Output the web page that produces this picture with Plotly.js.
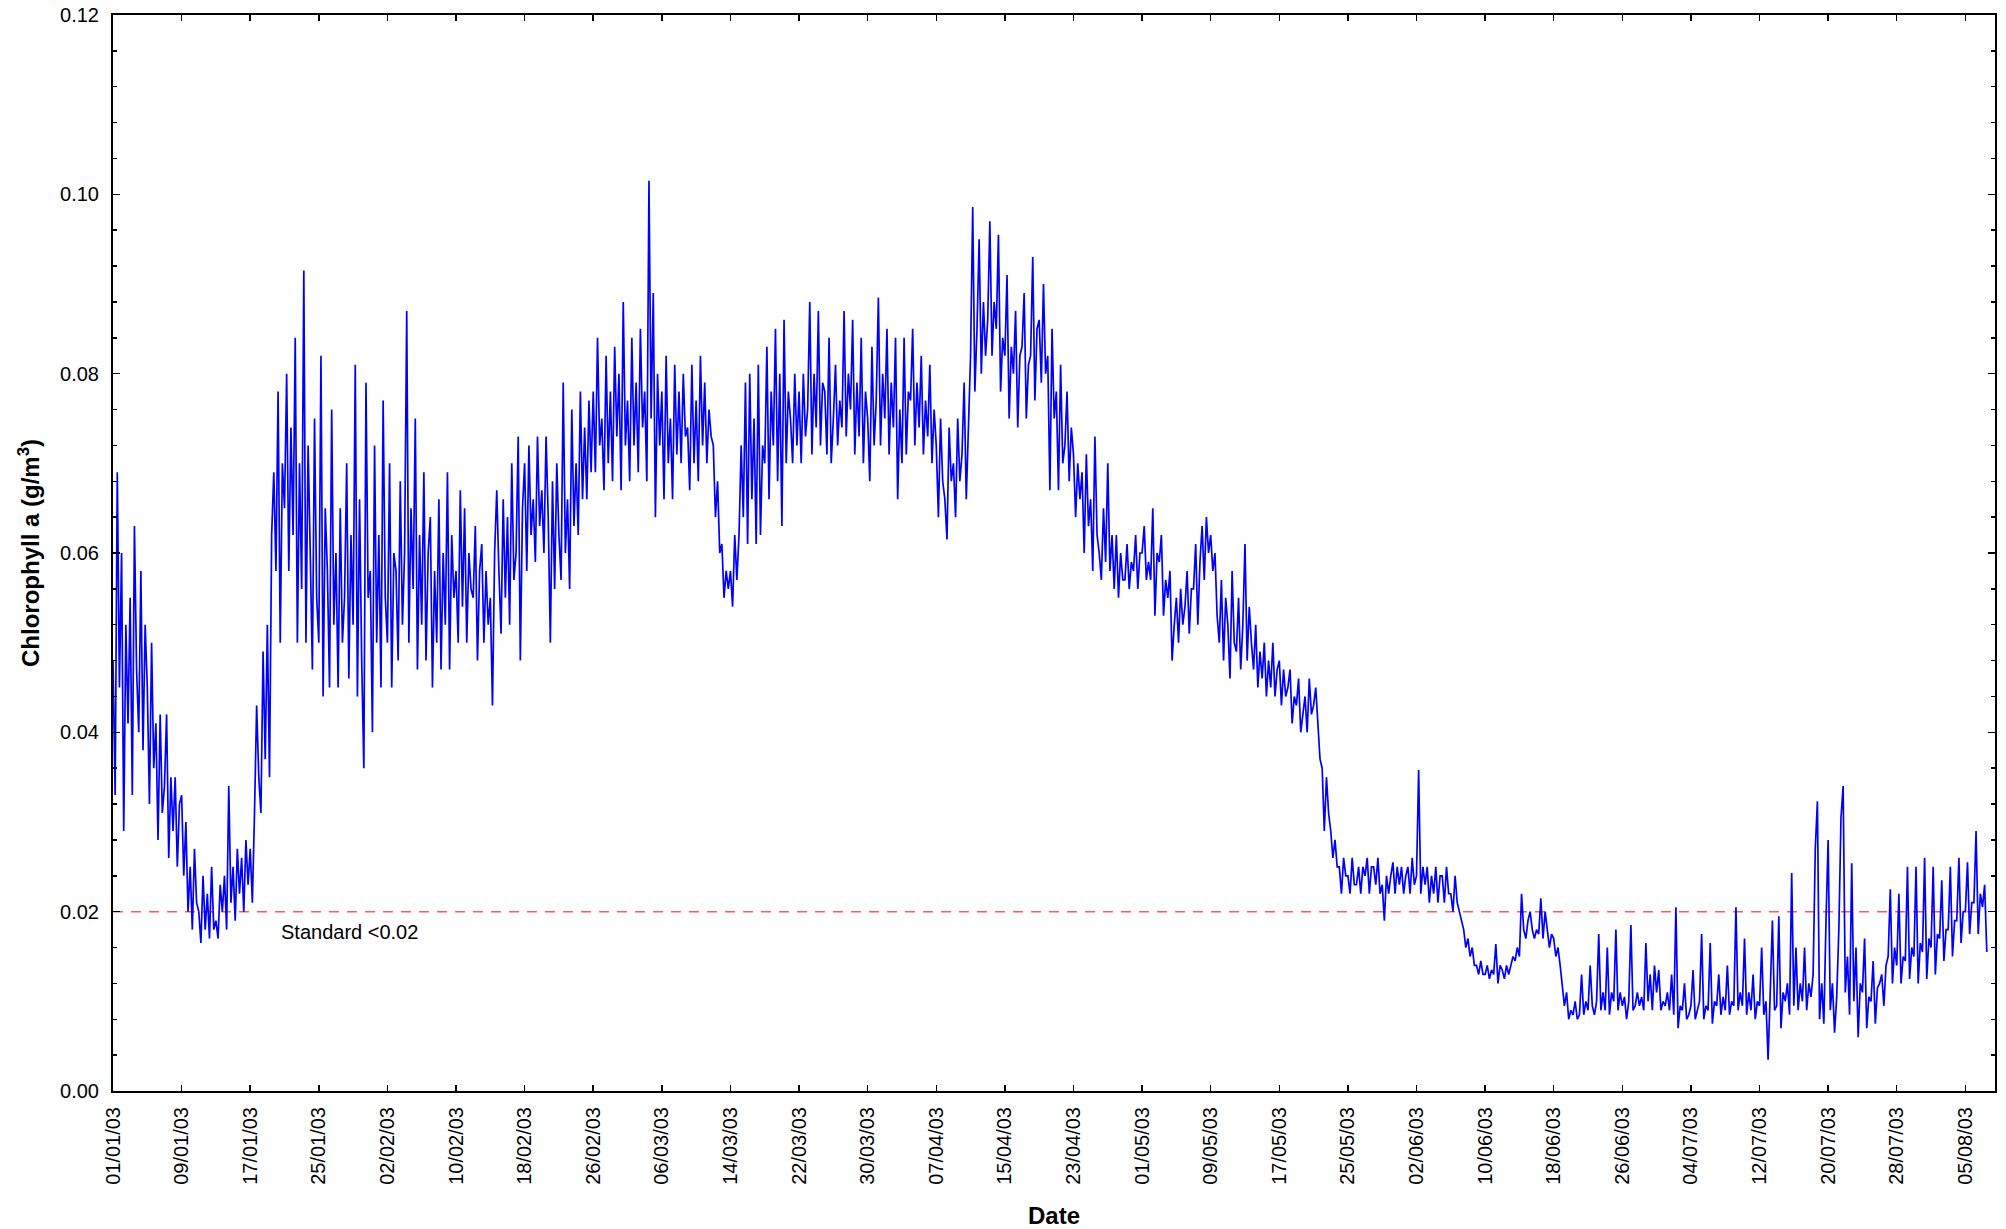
<!DOCTYPE html>
<html>
<head>
<meta charset="utf-8">
<script src="https://cdn.plot.ly/plotly-3.0.1.min.js"></script>
<style>
  html, body { margin: 0; padding: 0; background: #fff; }
  #chart { width: 2006px; height: 1229px; }
</style>
</head>
<body>
<div id="chart"></div>
<script>
// Chlorophyll a (g/m3), 4 readings per day (every 6 h) starting 01/01/03 00:00
const chlJan = [
  0.048,0.033,0.069,0.045, 0.060,0.029,0.052,0.041, 0.055,0.033,0.063,0.047, 0.040,0.058,0.038,0.052,
  0.045,0.032,0.050,0.036, 0.041,0.028,0.042,0.031, 0.034,0.042,0.026,0.035, 0.029,0.035,0.025,0.032,
  0.033,0.024,0.030,0.020, 0.025,0.018,0.027,0.021, 0.020,0.0165,0.024,0.018, 0.022,0.017,0.025,0.018,
  0.019,0.017,0.023,0.020, 0.024,0.018,0.034,0.021, 0.025,0.019,0.027,0.022, 0.026,0.020,0.028,0.023,
  0.027,0.021,0.031,0.043, 0.035,0.031,0.049,0.037, 0.052,0.035,0.062,0.069, 0.058,0.078,0.050,0.070,
  0.065,0.080,0.058,0.074, 0.062,0.084,0.050,0.070, 0.056,0.0915,0.050,0.072, 0.060,0.047,0.075,0.055,
  0.050,0.082,0.044,0.065, 0.058,0.045,0.076,0.052, 0.060,0.045,0.065,0.050, 0.055,0.070,0.046,0.062,
  0.052,0.081,0.044,0.066, 0.048,0.036,0.079,0.055, 0.058,0.040,0.072,0.050
];
const chlFeb = [
  0.062,0.045,0.077,0.055, 0.050,0.070,0.045,0.060, 0.058,0.048,0.068,0.052, 0.060,0.087,0.050,0.065,
  0.056,0.075,0.047,0.062, 0.052,0.069,0.048,0.060, 0.064,0.045,0.058,0.050, 0.066,0.047,0.060,0.052,
  0.069,0.047,0.062,0.055, 0.058,0.050,0.067,0.054, 0.065,0.050,0.060,0.056, 0.055,0.063,0.048,0.058,
  0.061,0.050,0.058,0.052, 0.055,0.043,0.060,0.067, 0.058,0.051,0.066,0.055, 0.064,0.052,0.070,0.057,
  0.060,0.073,0.048,0.065, 0.070,0.058,0.072,0.062, 0.066,0.059,0.073,0.063, 0.067,0.060,0.073,0.064,
  0.050,0.068,0.056,0.070, 0.062,0.057,0.079,0.060, 0.066,0.056,0.076,0.063, 0.070,0.062,0.078,0.066,
  0.074,0.066,0.077,0.069, 0.078,0.069,0.084,0.072, 0.075,0.067,0.082,0.070, 0.078,0.068,0.083,0.073
];
const chlMar = [
  0.080,0.067,0.088,0.072, 0.077,0.068,0.084,0.072, 0.079,0.069,0.085,0.074, 0.078,0.068,0.1015,0.075,
  0.089,0.064,0.080,0.072, 0.078,0.066,0.082,0.070, 0.075,0.066,0.081,0.071, 0.078,0.070,0.080,0.073,
  0.074,0.067,0.081,0.070, 0.077,0.068,0.082,0.072, 0.079,0.070,0.076,0.073, 0.072,0.064,0.068,0.060,
  0.061,0.055,0.058,0.056, 0.058,0.054,0.062,0.057, 0.062,0.072,0.064,0.079, 0.061,0.080,0.066,0.075,
  0.061,0.081,0.062,0.072, 0.070,0.083,0.066,0.078, 0.072,0.085,0.068,0.080, 0.063,0.086,0.070,0.078,
  0.075,0.070,0.080,0.072, 0.078,0.070,0.080,0.073, 0.076,0.088,0.071,0.080, 0.074,0.087,0.072,0.079,
  0.078,0.071,0.084,0.070, 0.075,0.081,0.072,0.077, 0.074,0.087,0.073,0.080, 0.076,0.086,0.071,0.079,
  0.073,0.084,0.070,0.078, 0.075,0.068,0.083,0.072, 0.077,0.0885,0.072,0.080
];
const chlApr = [
  0.075,0.085,0.071,0.079, 0.074,0.084,0.066,0.076, 0.070,0.084,0.071,0.078, 0.077,0.085,0.072,0.079,
  0.074,0.082,0.071,0.077, 0.073,0.081,0.070,0.076, 0.072,0.064,0.075,0.068, 0.066,0.0615,0.074,0.068,
  0.070,0.064,0.075,0.068, 0.071,0.079,0.066,0.075, 0.082,0.0986,0.078,0.085, 0.095,0.080,0.088,0.082,
  0.086,0.097,0.082,0.088, 0.085,0.0955,0.078,0.084, 0.082,0.091,0.075,0.083, 0.080,0.087,0.074,0.082,
  0.083,0.089,0.075,0.081, 0.082,0.093,0.077,0.085, 0.086,0.079,0.090,0.080, 0.082,0.067,0.085,0.075,
  0.078,0.067,0.081,0.070, 0.072,0.078,0.068,0.074, 0.071,0.064,0.070,0.066, 0.069,0.060,0.071,0.063,
  0.066,0.058,0.073,0.062, 0.060,0.057,0.065,0.059, 0.070,0.058,0.062,0.056, 0.062,0.055,0.060,0.057,
  0.057,0.061,0.056,0.059, 0.058,0.062,0.056,0.060
];
const chlMay = [
  0.060,0.063,0.057,0.059, 0.057,0.065,0.053,0.060, 0.059,0.062,0.053,0.057, 0.055,0.058,0.048,0.052,
  0.055,0.050,0.056,0.052, 0.054,0.058,0.051,0.056, 0.056,0.061,0.052,0.059, 0.063,0.057,0.064,0.060,
  0.062,0.058,0.060,0.053, 0.050,0.057,0.048,0.055, 0.052,0.046,0.058,0.050, 0.049,0.055,0.047,0.052,
  0.061,0.048,0.054,0.050, 0.047,0.052,0.045,0.049, 0.046,0.050,0.044,0.048, 0.045,0.050,0.044,0.047,
  0.048,0.043,0.047,0.044, 0.045,0.047,0.041,0.044, 0.043,0.046,0.040,0.042, 0.044,0.040,0.046,0.042,
  0.043,0.045,0.041,0.037, 0.036,0.029,0.035,0.031, 0.029,0.026,0.028,0.025, 0.025,0.022,0.026,0.024,
  0.024,0.022,0.026,0.023, 0.023,0.025,0.022,0.025, 0.024,0.026,0.022,0.025, 0.025,0.023,0.026,0.022,
  0.023,0.019,0.024,0.022, 0.024,0.0255,0.022,0.025, 0.023,0.025,0.022,0.024
];
const chlJun = [
  0.025,0.022,0.026,0.023, 0.024,0.0358,0.022,0.025, 0.023,0.025,0.021,0.024, 0.022,0.025,0.021,0.024,
  0.024,0.021,0.025,0.022, 0.022,0.020,0.024,0.021, 0.020,0.019,0.018,0.016, 0.017,0.015,0.016,0.014,
  0.014,0.013,0.0145,0.013, 0.013,0.014,0.0125,0.0135, 0.013,0.0164,0.012,0.014, 0.0135,0.0125,0.014,0.013,
  0.014,0.015,0.0145,0.016, 0.015,0.022,0.018,0.017, 0.019,0.020,0.018,0.017, 0.018,0.0175,0.0215,0.017,
  0.020,0.018,0.016,0.0175, 0.017,0.015,0.016,0.014, 0.012,0.0095,0.011,0.008, 0.009,0.0085,0.010,0.008,
  0.0085,0.013,0.0085,0.010, 0.009,0.014,0.0095,0.0085, 0.010,0.0175,0.009,0.011, 0.009,0.016,0.0085,0.011,
  0.010,0.018,0.009,0.011, 0.0095,0.0105,0.008,0.010, 0.0185,0.009,0.0095,0.011, 0.0095,0.0105,0.009,0.0165,
  0.010,0.013,0.009,0.014, 0.011,0.0135,0.009,0.010
];
const chlJul = [
  0.0095,0.011,0.009,0.013, 0.0085,0.0205,0.007,0.0095, 0.009,0.012,0.008,0.0085, 0.0095,0.0135,0.008,0.009,
  0.010,0.0175,0.008,0.0095, 0.009,0.0165,0.0075,0.010, 0.0095,0.013,0.0085,0.0105, 0.009,0.014,0.0085,0.010,
  0.0095,0.0205,0.009,0.011, 0.0095,0.017,0.0085,0.011, 0.009,0.013,0.008,0.010, 0.0095,0.016,0.0085,0.010,
  0.0035,0.011,0.019,0.009, 0.0095,0.0195,0.007,0.011, 0.010,0.012,0.0085,0.0243, 0.0095,0.016,0.009,0.012,
  0.010,0.016,0.009,0.012, 0.0105,0.013,0.027,0.0323, 0.008,0.012,0.0075,0.019, 0.028,0.009,0.012,0.0065,
  0.0105,0.018,0.0305,0.034, 0.011,0.015,0.0085,0.0254, 0.010,0.016,0.006,0.012, 0.011,0.017,0.007,0.0105,
  0.010,0.0145,0.0075,0.0115, 0.012,0.013,0.0095,0.014, 0.015,0.0225,0.012,0.016, 0.014,0.022,0.012,0.015,
  0.0145,0.025,0.0125,0.016, 0.015,0.025,0.012,0.0165, 0.0155,0.026,0.0125,0.017
];
const chlAug = [
  0.016,0.025,0.013,0.0175, 0.017,0.0235,0.0145,0.018, 0.018,0.025,0.015,0.019, 0.019,0.026,0.0165,0.020,
  0.020,0.0255,0.0175,0.021, 0.021,0.029,0.0175,0.022, 0.0205,0.023,0.0155
];
const standardLevel = [0.02, 0.02];
const standardLabel = 'Standard <0.02';
const startDate = '2003-01-01';
const endDate = '2003-08-08 11:00';
const readingsPerDay = 4;

const chl = [].concat(chlJan, chlFeb, chlMar, chlApr, chlMay, chlJun, chlJul, chlAug);
const t0 = Date.UTC(2003, 0, 1);
const stepMs = 86400000 / readingsPerDay;
function fmt(ms) {
  const d = new Date(ms);
  const p = n => String(n).padStart(2, '0');
  return d.getUTCFullYear() + '-' + p(d.getUTCMonth() + 1) + '-' + p(d.getUTCDate()) + ' ' + p(d.getUTCHours()) + ':' + p(d.getUTCMinutes());
}
const dates = chl.map((_, i) => fmt(t0 + i * stepMs));

const FONT = 'Liberation Sans, Arial, sans-serif';

const traces = [
  {
    type: 'scatter', mode: 'lines',
    x: [dates[0], dates[dates.length - 1]], y: standardLevel,
    line: { color: 'rgb(255,90,90)', width: 1.5, dash: '10px,8px' },
    hoverinfo: 'skip'
  },
  {
    type: 'scatter', mode: 'lines',
    x: dates, y: chl,
    line: { color: 'rgb(0,0,255)', width: 1.7 }
  }
];

const axisCommon = {
  showline: true, linecolor: '#000', linewidth: 2, mirror: 'ticks',
  ticks: 'inside', tickcolor: '#000', tickwidth: 1.5,
  showgrid: false, zeroline: false,
  tickfont: { family: FONT, size: 20, color: '#000' }
};

const layout = {
  width: 2006, height: 1229,
  margin: { l: 113, r: 11, t: 15, b: 138 },
  paper_bgcolor: '#fff', plot_bgcolor: '#fff',
  showlegend: false,
  xaxis: Object.assign({}, axisCommon, {
    type: 'date',
    range: [startDate, endDate],
    tick0: startDate, dtick: 8 * 86400000,
    tickformat: '%d/%m/%y', tickangle: -90,
    ticklen: 6, ticklabelstandoff: 6,
    title: { text: 'Date', font: { family: FONT, size: 24, color: '#000', weight: 'bold' }, standoff: 24 }
  }),
  yaxis: Object.assign({}, axisCommon, {
    range: [0, 0.12], dtick: 0.02, tickformat: '.2f',
    ticklen: 7, ticklabelstandoff: 8,
    minor: { dtick: 0.004, ticks: 'inside', ticklen: 4, tickcolor: '#000', tickwidth: 1.5, showgrid: false },
    title: { text: 'Chlorophyll a (g/m<sup>3</sup>)', font: { family: FONT, size: 24, color: '#000', weight: 'bold' }, standoff: 14 }
  }),
  annotations: [{
    x: '2003-01-20 08:40', y: 0.0177, xref: 'x', yref: 'y',
    text: standardLabel, showarrow: false, xanchor: 'left', yanchor: 'middle',
    font: { family: FONT, size: 20, color: '#000' }
  }]
};

Plotly.newPlot('chart', traces, layout, { staticPlot: true, displayModeBar: false });
</script>
</body>
</html>
